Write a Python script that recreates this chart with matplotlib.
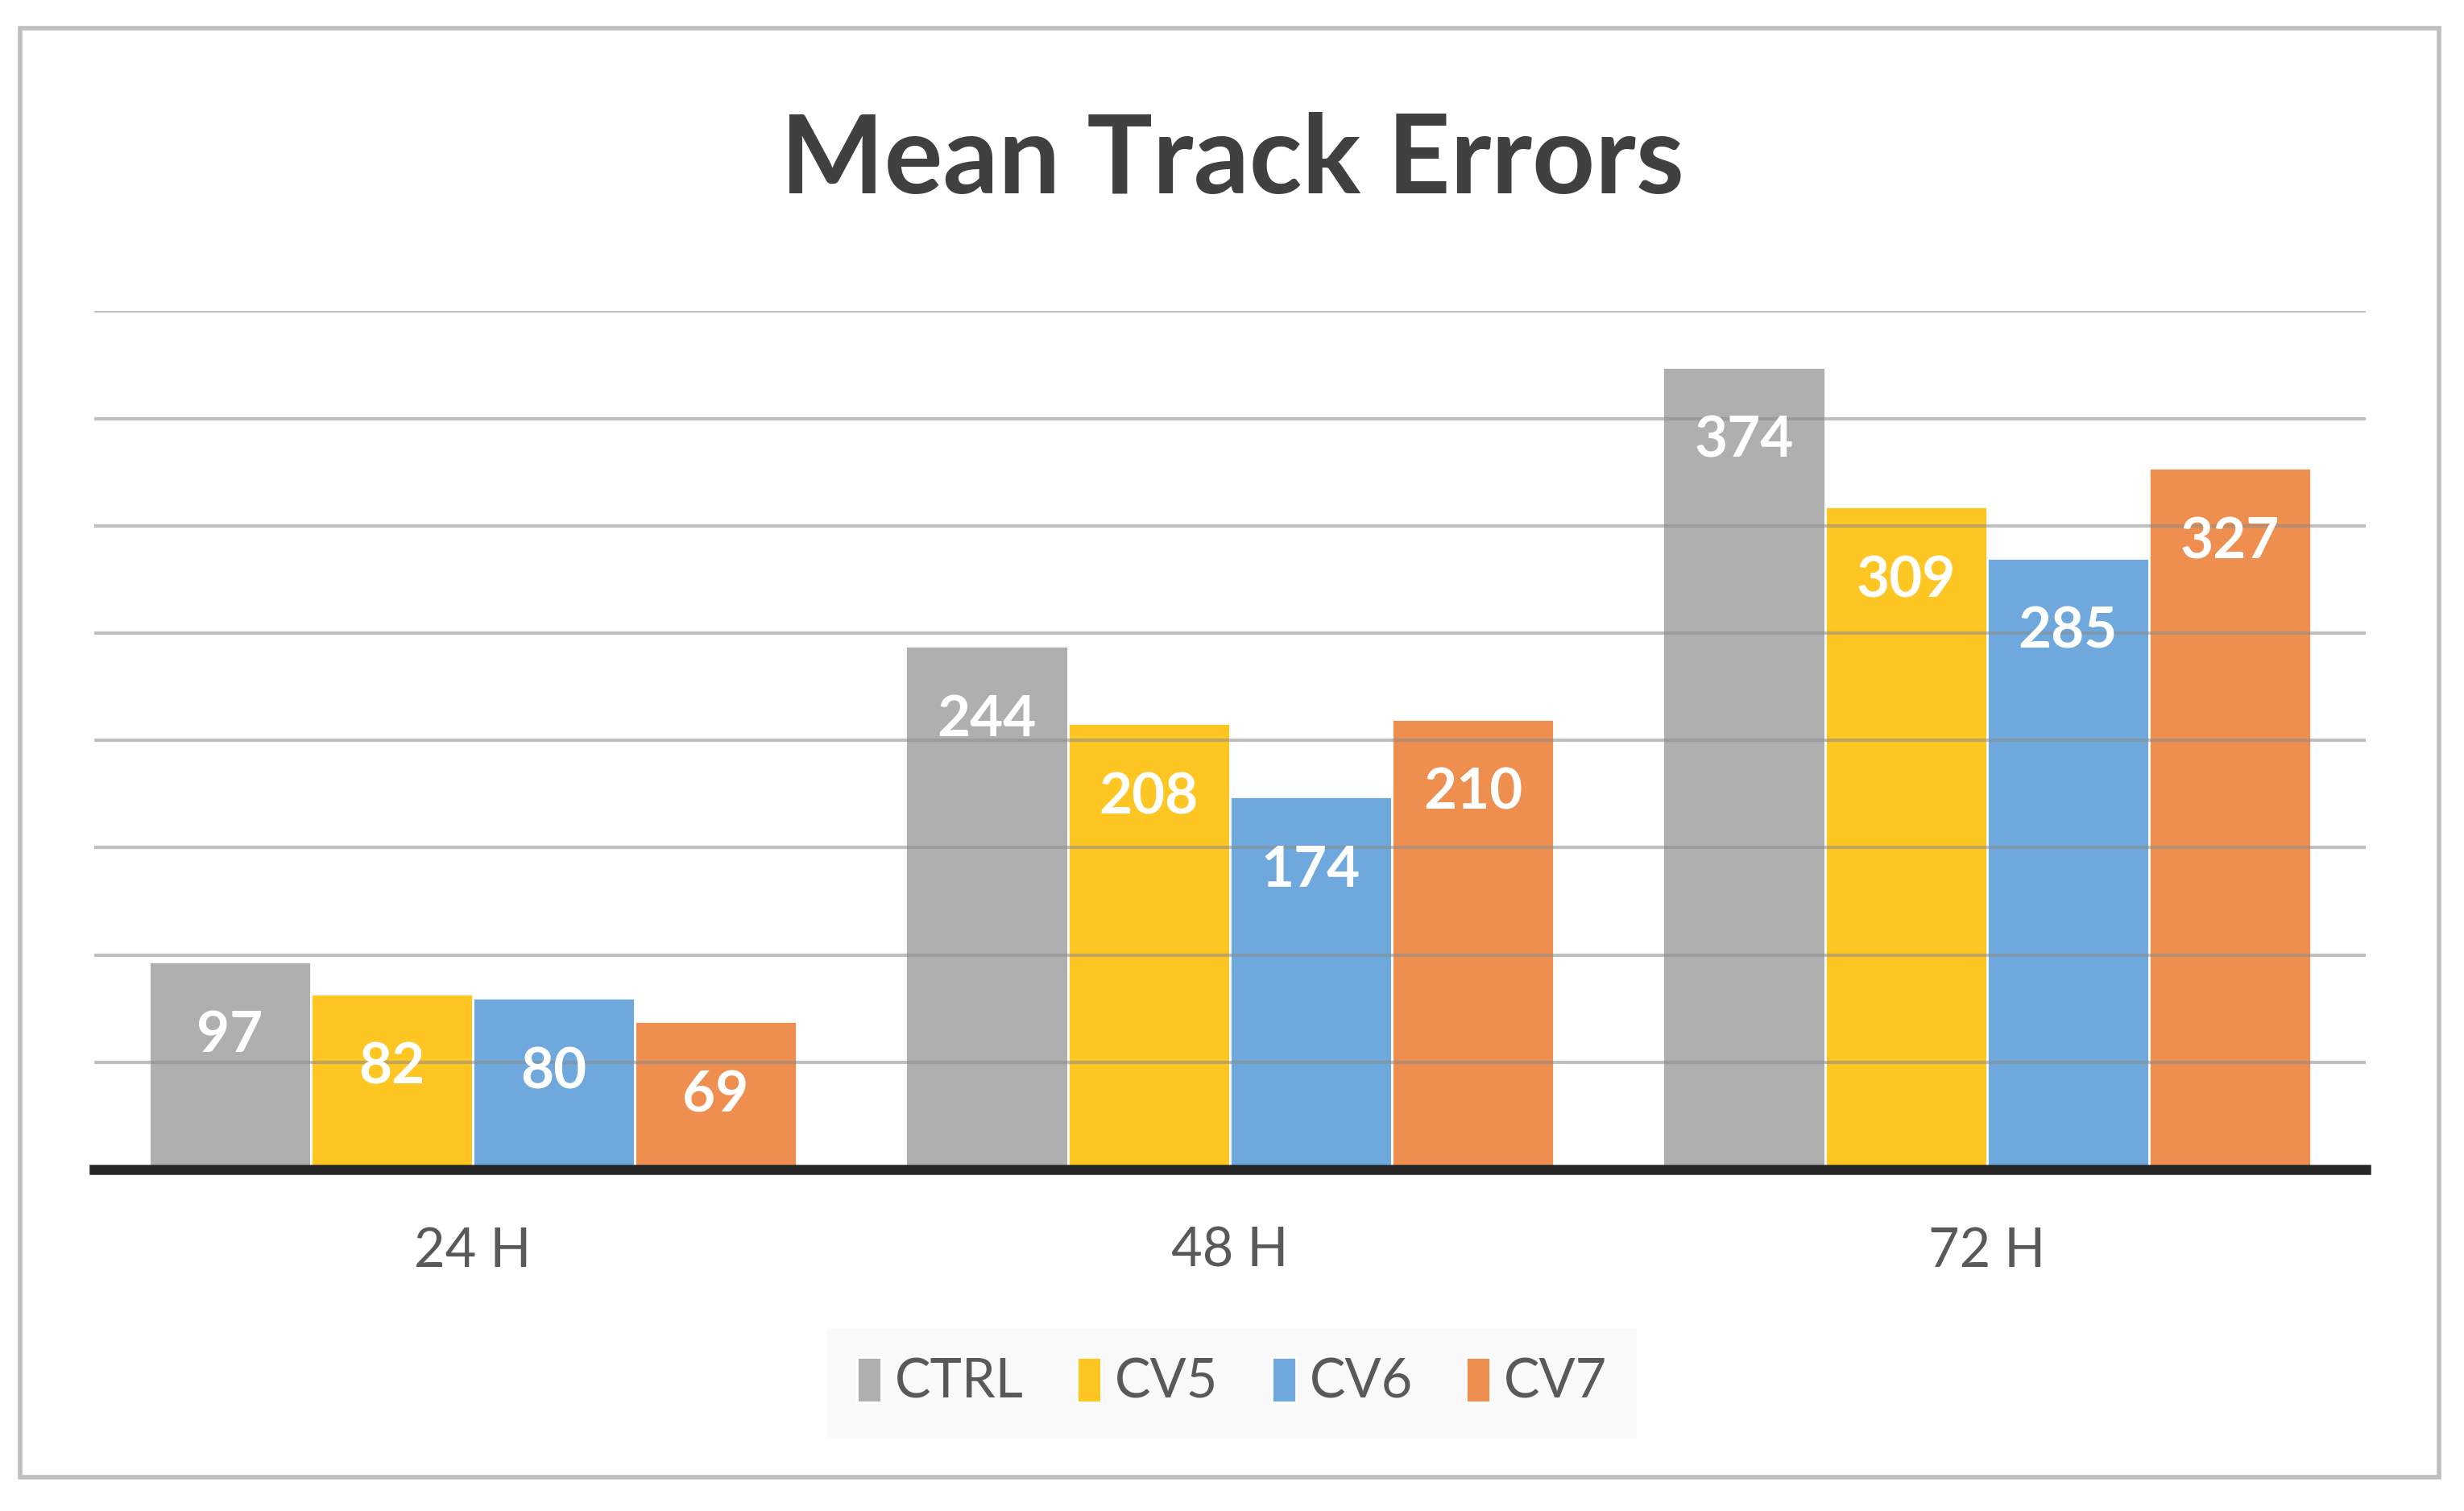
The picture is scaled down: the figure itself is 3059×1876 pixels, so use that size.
import numpy as np
import matplotlib.pyplot as plt
from matplotlib.patches import Rectangle

plt.rcParams['font.family'] = ['Lato', 'DejaVu Sans']

# Data
categories = ["24 H", "48 H", "72 H"]
series_names = ["CTRL", "CV5", "CV6", "CV7"]
ctrl = [97, 244, 374]
cv5 = [82, 208, 309]
cv6 = [80, 174, 285]
cv7 = [69, 210, 327]
series_values = [ctrl, cv5, cv6, cv7]
colors = ["#afafaf", "#fdc623", "#6fa8dc", "#ee8e4f"]

fig = plt.figure(figsize=(15.295, 9.38), dpi=200)
ax = fig.add_axes([0.0382, 0.226, 0.9218, 0.568])

x = np.arange(len(categories))
width = 0.214
offsets = (np.arange(len(series_names)) - 1.5) * width

for name, vals, col, off in zip(series_names, series_values, colors, offsets):
    bars = ax.bar(x + off, vals, width, color=col, edgecolor="white",
                  linewidth=1.0, label=name, zorder=2)
    for b, v in zip(bars, vals):
        ax.annotate(str(v), (b.get_x() + b.get_width() / 2, v),
                    xytext=(0, -33), textcoords="offset points",
                    ha="center", va="center", color="white",
                    fontsize=25.5, fontweight="bold", zorder=5)

ax.set_xlim(-0.5, 2.5)
ax.set_ylim(0, 400)
ax.set_yticks(np.arange(50, 401, 50))
ax.yaxis.grid(True, color="#8c8c8c", linewidth=1.5, alpha=0.55, zorder=3)
ax.set_axisbelow(False)
ax.tick_params(axis="y", left=False, labelleft=False)
ax.tick_params(axis="x", bottom=False, pad=22, labelsize=24, labelcolor="#595959")
ax.set_xticks(x)
ax.set_xticklabels(categories)
for s in ["top", "right", "left"]:
    ax.spines[s].set_visible(False)
ax.spines["bottom"].set_color("#262626")
ax.spines["bottom"].set_linewidth(4.5)
ax.spines["bottom"].set_zorder(4)

fig.text(0.5, 0.893, "Mean Track Errors", ha="center", va="center",
         fontsize=49, fontweight="bold", color="#404040")

leg = fig.legend(loc="center", bbox_to_anchor=(0.5, 0.085), ncol=4,
                 frameon=True, fontsize=24, handlelength=0.45, handleheight=0.9,
                 handletextpad=0.25, columnspacing=1.0, borderpad=0.55,
                 fancybox=False)
leg.get_frame().set_facecolor("#f8f8f8")
leg.get_frame().set_edgecolor("none")
for t in leg.get_texts():
    t.set_color("#595959")

# outer border
fig.patches.append(Rectangle((25 / 3059, 1 - 1834 / 1876), 3003 / 3059, 1799 / 1876,
                             transform=fig.transFigure, fill=False,
                             edgecolor="#bfbfbf", linewidth=2.0))

fig.savefig("out.png", dpi=200, facecolor="white")
